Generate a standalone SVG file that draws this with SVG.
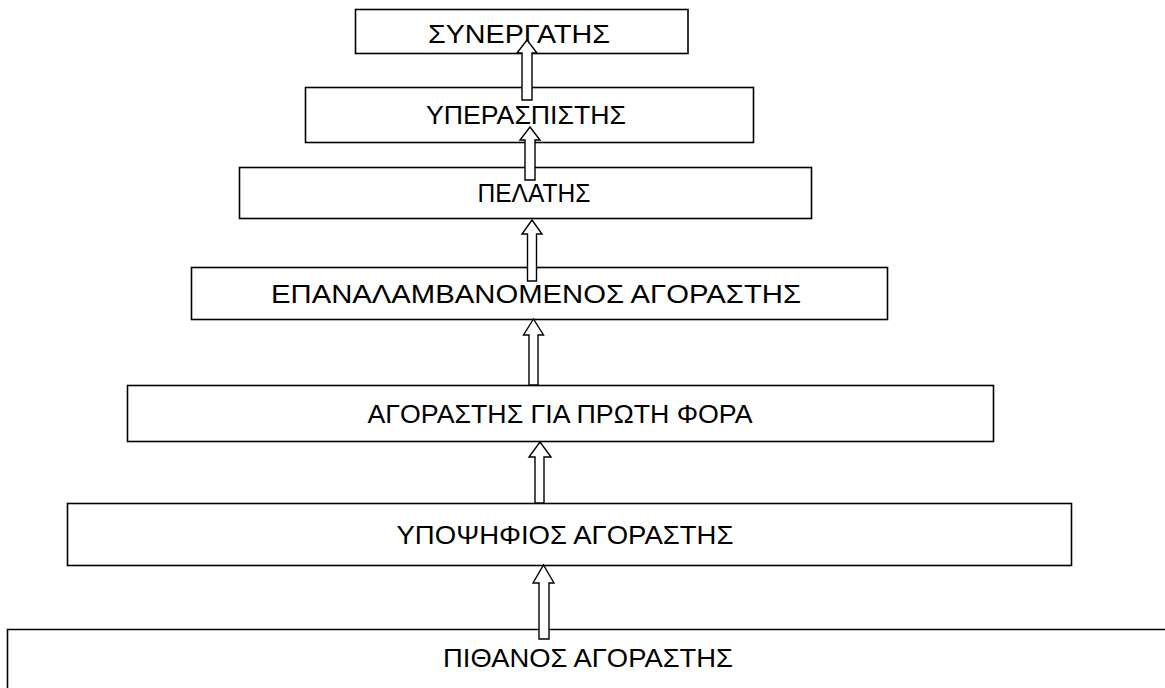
<svg xmlns="http://www.w3.org/2000/svg" width="1165" height="688" viewBox="0 0 1165 688">
  <style>
    .box { fill: #ffffff; stroke: #000000; stroke-width: 1.6; }
    .lbl { font-family: "Liberation Sans", Arial, sans-serif; font-size: 26px; fill: #000000; text-anchor: middle; }
    .arrow { fill: #ffffff; stroke: #000000; stroke-width: 1.4; stroke-linejoin: miter; }
  </style>
  <rect width="1165" height="688" fill="#ffffff"/>

  <!-- stage boxes, top of the ladder first -->
  <g id="synergatis">
    <rect class="box" x="355.5" y="9.5" width="332.5" height="44"/>
    <text class="lbl" x="519" y="43" textLength="182" lengthAdjust="spacingAndGlyphs">ΣΥΝΕΡΓΑΤΗΣ</text>
  </g>
  <g id="yperaspistis">
    <rect class="box" x="305.5" y="87.5" width="448" height="55"/>
    <text class="lbl" x="526" y="124" textLength="200" lengthAdjust="spacingAndGlyphs">ΥΠΕΡΑΣΠΙΣΤΗΣ</text>
  </g>
  <g id="pelatis">
    <rect class="box" x="239.5" y="167.5" width="572" height="51"/>
    <text class="lbl" x="534" y="202" textLength="113" lengthAdjust="spacingAndGlyphs">ΠΕΛΑΤΗΣ</text>
  </g>
  <g id="epanalamvanomenos">
    <rect class="box" x="191.5" y="267.5" width="696" height="52"/>
    <text class="lbl" x="536" y="303" textLength="530" lengthAdjust="spacingAndGlyphs">ΕΠΑΝΑΛΑΜΒΑΝΟΜΕΝΟΣ ΑΓΟΡΑΣΤΗΣ</text>
  </g>
  <g id="proti-fora">
    <rect class="box" x="127.5" y="385.5" width="866" height="56"/>
    <text class="lbl" x="560" y="423" textLength="385" lengthAdjust="spacingAndGlyphs">ΑΓΟΡΑΣΤΗΣ ΓΙΑ ΠΡΩΤΗ ΦΟΡΑ</text>
  </g>
  <g id="ypopsifios">
    <rect class="box" x="67.5" y="503.5" width="1004" height="62"/>
    <text class="lbl" x="565" y="544" textLength="337" lengthAdjust="spacingAndGlyphs">ΥΠΟΨΗΦΙΟΣ ΑΓΟΡΑΣΤΗΣ</text>
  </g>
  <g id="pithanos">
    <path class="box" d="M7.5 700 V629.5 H1170 V700"/>
    <text class="lbl" x="588" y="667" textLength="290" lengthAdjust="spacingAndGlyphs">ΠΙΘΑΝΟΣ ΑΓΟΡΑΣΤΗΣ</text>
  </g>

  <!-- hollow block arrows climbing from each stage to the next -->
  <g id="connectors">
    <polygon class="arrow" points="527,40 537,53 532,53 532,100 522,100 522,53 517,53"/>
    <polygon class="arrow" points="530,127 540,140 535,140 535,180 525,180 525,140 520,140"/>
    <polygon class="arrow" points="532,220 542,234 536.5,234 536.5,281 527.5,281 527.5,234 522,234"/>
    <polygon class="arrow" points="533.5,319 543.5,335 538,335 538,385 529,385 529,335 523.5,335"/>
    <polygon class="arrow" points="540,442 551,457 544,457 544,503 535,503 535,457 529,457"/>
    <polygon class="arrow" points="543.5,565 554,583 549,583 549,639 539,639 539,583 533,583"/>
  </g>
</svg>
